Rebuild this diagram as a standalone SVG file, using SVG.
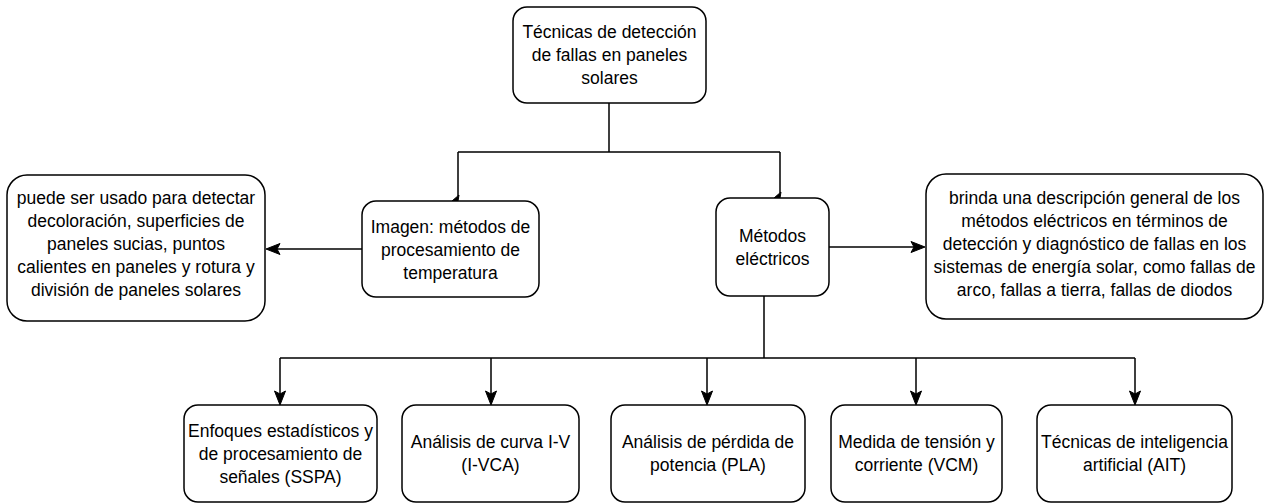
<svg xmlns="http://www.w3.org/2000/svg" width="1269" height="504" viewBox="0 0 1269 504">
<style>
.box{fill:#ffffff;stroke:#000000;stroke-width:1.5}
.t{font-family:"Liberation Sans",Arial,Helvetica,sans-serif;font-size:17.5px;fill:#000000;text-anchor:middle}
.c{fill:none;stroke:#000000;stroke-width:1.5}
.ah{fill:#000000;stroke:#000000;stroke-width:1}
</style>
<rect width="1269" height="504" fill="#ffffff"/>
<g id="connectors">
<path class="c" d="M609,103 V152 M458,152 H780 M458,152 V196 M780,152 V193"/>
<polygon class="ah" points="452,201 459,195 458,201"/>
<polygon class="ah" points="774,198 781,192 780,198"/>
<path class="c" d="M362,249 H276"/>
<path class="ah" d="M266,249 L280,243.5 L277,249 L280,254.5 Z"/>
<path class="c" d="M829,247 H915"/>
<path class="ah" d="M925,247 L911,241.5 L914,247 L911,252.5 Z"/>
<path class="c" d="M764,296 V358 M280,358 H1135 M280,358 V395 M491,358 V395 M707,358 V395 M916,358 V395 M1135,358 V395"/>
<path class="ah" d="M280,405 L274.5,391 L280,394 L285.5,391 Z"/>
<path class="ah" d="M491,405 L485.5,391 L491,394 L496.5,391 Z"/>
<path class="ah" d="M707,405 L701.5,391 L707,394 L712.5,391 Z"/>
<path class="ah" d="M916,405 L910.5,391 L916,394 L921.5,391 Z"/>
<path class="ah" d="M1135,405 L1129.5,391 L1135,394 L1140.5,391 Z"/>
</g>
<g id="n-top">
<rect class="box" x="513" y="7" width="193" height="96" rx="14" ry="14"/>
<text class="t" x="609.5" y="38">Técnicas de detección</text>
<text class="t" x="609.5" y="61">de fallas en paneles</text>
<text class="t" x="609.5" y="84">solares</text>
</g>
<g id="n-imagen">
<rect class="box" x="362" y="201" width="177" height="96" rx="14" ry="14"/>
<text class="t" x="450.5" y="233">Imagen: métodos de</text>
<text class="t" x="450.5" y="256">procesamiento de</text>
<text class="t" x="450.5" y="279">temperatura</text>
</g>
<g id="n-imagen-desc">
<rect class="box" x="7" y="175" width="258" height="146" rx="20" ry="20"/>
<text class="t" x="136" y="204">puede ser usado para detectar</text>
<text class="t" x="136" y="227">decoloración, superficies de</text>
<text class="t" x="136" y="250">paneles sucias, puntos</text>
<text class="t" x="136" y="273">calientes en paneles y rotura y</text>
<text class="t" x="136" y="296">división de paneles solares</text>
</g>
<g id="n-metodos">
<rect class="box" x="716" y="198" width="113" height="98" rx="14" ry="14"/>
<text class="t" x="772.5" y="242">Métodos</text>
<text class="t" x="772.5" y="265">eléctricos</text>
</g>
<g id="n-metodos-desc">
<rect class="box" x="926" y="174" width="337" height="145" rx="20" ry="20"/>
<text class="t" x="1094.5" y="204">brinda una descripción general de los</text>
<text class="t" x="1094.5" y="227">métodos eléctricos en términos de</text>
<text class="t" x="1094.5" y="250">detección y diagnóstico de fallas en los</text>
<text class="t" x="1094.5" y="273">sistemas de energía solar, como fallas de</text>
<text class="t" x="1094.5" y="296">arco, fallas a tierra, fallas de diodos</text>
</g>
<g id="n-sspa">
<rect class="box" x="184" y="405" width="193" height="97" rx="14" ry="14"/>
<text class="t" x="280.5" y="437">Enfoques estadísticos y</text>
<text class="t" x="280.5" y="460">de procesamiento de</text>
<text class="t" x="280.5" y="483">señales (SSPA)</text>
</g>
<g id="n-ivca">
<rect class="box" x="402" y="405" width="177" height="97" rx="14" ry="14"/>
<text class="t" x="490.5" y="448">Análisis de curva I-V</text>
<text class="t" x="490.5" y="471">(I-VCA)</text>
</g>
<g id="n-pla">
<rect class="box" x="611" y="405" width="194" height="97" rx="14" ry="14"/>
<text class="t" x="708" y="448">Análisis de pérdida de</text>
<text class="t" x="708" y="471">potencia (PLA)</text>
</g>
<g id="n-vcm">
<rect class="box" x="831" y="405" width="171" height="97" rx="14" ry="14"/>
<text class="t" x="916.5" y="448">Medida de tensión y</text>
<text class="t" x="916.5" y="471">corriente (VCM)</text>
</g>
<g id="n-ait">
<rect class="box" x="1037" y="405" width="195" height="97" rx="14" ry="14"/>
<text class="t" x="1134.5" y="448">Técnicas de inteligencia</text>
<text class="t" x="1134.5" y="471">artificial (AIT)</text>
</g>
</svg>
